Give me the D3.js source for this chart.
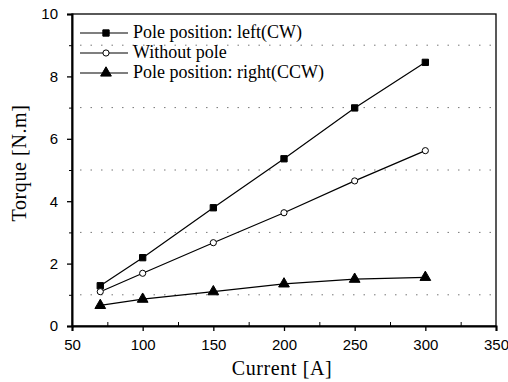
<!DOCTYPE html>
<html>
<head>
<meta charset="utf-8">
<script src="https://cdn.jsdelivr.net/npm/d3@7"></script>
<style>
    body { margin: 0; background: #fff; }
    .tick-label { font-family: "Liberation Sans", Arial, sans-serif; font-size: 15px; }
    .title { font-family: "Liberation Serif", "Times New Roman", serif; font-size: 20px; letter-spacing: 0.6px; }
    .legend-text { font-family: "Liberation Serif", "Times New Roman", serif; font-size: 18px; }
</style>
</head>
<body>
<div id="chart"></div>
<script>
    // Chart data
    const currents = [70, 100, 150, 200, 250, 300];
    const leftCW = [1.29, 2.19, 3.79, 5.36, 6.99, 8.45];
    const withoutPole = [1.1, 1.69, 2.67, 3.63, 4.65, 5.62];
    const rightCCW = [0.66, 0.86, 1.1, 1.35, 1.5, 1.56];
    const seriesNames = ['Pole position: left(CW)', 'Without pole', 'Pole position: right(CCW)'];
    const xTicks = [50, 100, 150, 200, 250, 300, 350];
    const yTicks = [0, 2, 4, 6, 8, 10];
    const gridValues = [1, 3, 5, 7, 9];

    const width = 508, height = 382;
    const margin = { top: 14, right: 12, bottom: 56, left: 72 };

    const svg = d3.select('#chart')
        .append('svg')
        .attr('width', width)
        .attr('height', height);

    const x = d3.scaleLinear().domain([50, 350]).range([margin.left, width - margin.right]);
    const y = d3.scaleLinear().domain([0, 10]).range([height - margin.bottom, margin.top]);

    // Dotted gridlines
    svg.selectAll('.grid')
        .data(gridValues)
        .enter()
        .append('line')
        .attr('x1', x(50) + 8)
        .attr('x2', x(350) - 2)
        .attr('y1', d => y(d))
        .attr('y2', d => y(d))
        .attr('stroke', '#777')
        .attr('stroke-width', 1)
        .attr('stroke-dasharray', '1.5,9');

    // Frame
    svg.append('rect')
        .attr('x', x(50))
        .attr('y', y(10))
        .attr('width', x(350) - x(50))
        .attr('height', y(0) - y(10))
        .attr('fill', 'none')
        .attr('stroke', '#000')
        .attr('stroke-width', 1.3);

    // Axes
    const xAxis = svg.append('g')
        .attr('transform', `translate(0, ${y(0)})`)
        .call(d3.axisBottom(x).tickValues(xTicks).tickSize(5).tickPadding(8));
    const yAxis = svg.append('g')
        .attr('transform', `translate(${x(50)}, 0)`)
        .call(d3.axisLeft(y).tickValues(yTicks).tickSize(5).tickPadding(9));

    [xAxis, yAxis].forEach(a => {
        a.select('.domain').attr('stroke-width', 2);
        a.selectAll('.tick line').attr('stroke-width', 1.3);
        a.selectAll('text').attr('class', 'tick-label').attr('fill', '#000');
    });

    // Minor ticks
    svg.append('g')
        .attr('transform', `translate(0, ${y(0)})`)
        .call(d3.axisBottom(x).tickValues(d3.range(75, 350, 50)).tickSize(-4).tickFormat(''))
        .call(g => g.select('.domain').remove());
    svg.append('g')
        .attr('transform', `translate(${x(50)}, 0)`)
        .call(d3.axisLeft(y).tickValues(gridValues).tickSize(3).tickFormat(''))
        .call(g => g.select('.domain').remove());

    // Axis titles
    svg.append('text')
        .attr('class', 'title')
        .attr('x', 282)
        .attr('y', 375)
        .attr('text-anchor', 'middle')
        .text('Current [A]');

    svg.append('text')
        .attr('class', 'title')
        .attr('transform', 'translate(26, 163) rotate(-90)')
        .attr('text-anchor', 'middle')
        .text('Torque [N.m]');

    // Series
    const series = [
        { name: seriesNames[0], values: leftCW, symbol: d3.symbolSquare, fill: '#000', size: 40 },
        { name: seriesNames[1], values: withoutPole, symbol: d3.symbolCircle, fill: '#fff', size: 30 },
        { name: seriesNames[2], values: rightCCW, symbol: d3.symbolTriangle, fill: '#000', size: 50 }
    ];

    const line = d3.line()
        .x((d, i) => x(currents[i]))
        .y(d => y(d));

    series.forEach(s => {
        svg.append('path')
            .datum(s.values)
            .attr('d', line)
            .attr('fill', 'none')
            .attr('stroke', '#000')
            .attr('stroke-width', 1.2);

        svg.selectAll(null)
            .data(s.values)
            .enter()
            .append('path')
            .attr('d', d3.symbol().type(s.symbol).size(s.size))
            .attr('transform', (d, i) => `translate(${x(currents[i])}, ${y(d)})`)
            .attr('fill', s.fill)
            .attr('stroke', '#000')
            .attr('stroke-width', 1);
    });

    // Legend
    const legendRows = [33, 53, 73];
    series.forEach((s, i) => {
        const ly = legendRows[i];
        svg.append('line')
            .attr('x1', 80).attr('x2', 128)
            .attr('y1', ly).attr('y2', ly)
            .attr('stroke', '#000')
            .attr('stroke-width', 1.2);
        svg.append('path')
            .attr('d', d3.symbol().type(s.symbol).size(s.size))
            .attr('transform', `translate(106, ${ly})`)
            .attr('fill', s.fill)
            .attr('stroke', '#000');
        svg.append('text')
            .attr('class', 'legend-text')
            .attr('x', 133)
            .attr('y', ly + 5)
            .text(s.name);
    });
</script>
</body>
</html>
